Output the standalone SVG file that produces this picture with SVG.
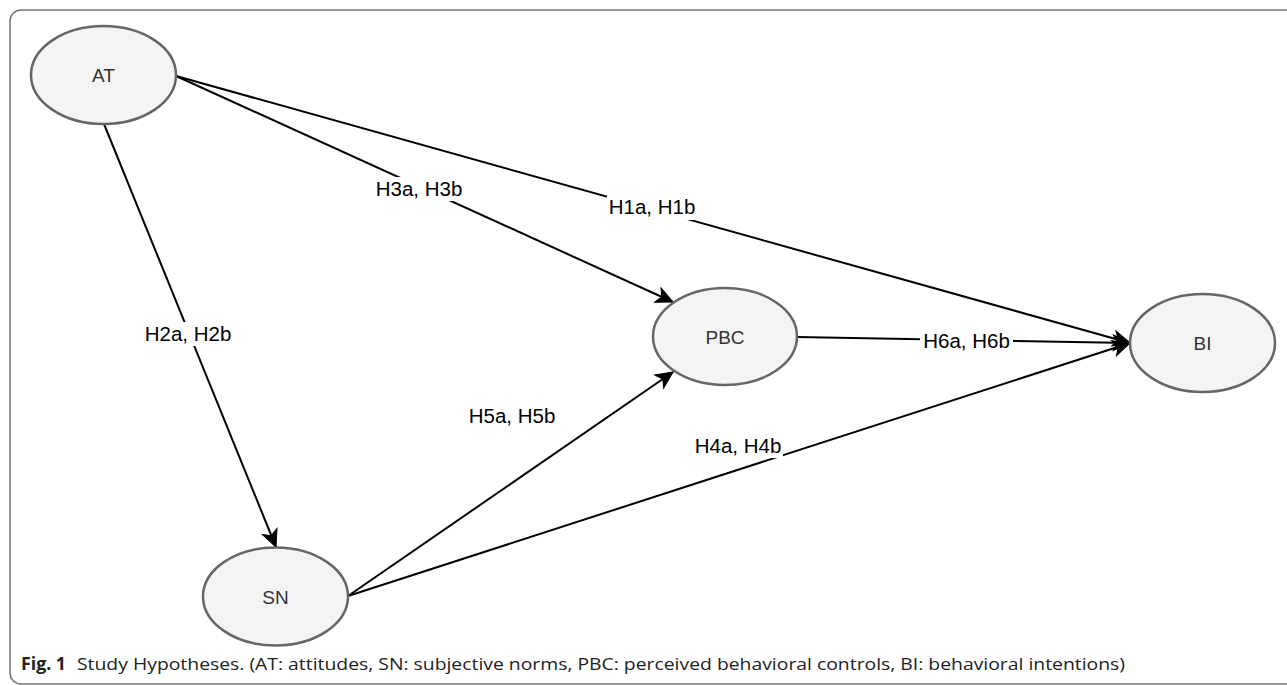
<svg xmlns="http://www.w3.org/2000/svg" width="1287" height="685" viewBox="0 0 1287 685">
<style>
.node{fill:#f4f4f4;stroke:#666;stroke-width:2.5}
.nt{font-family:"Liberation Sans",Arial,sans-serif;font-size:19px;fill:#333;text-anchor:middle}
.edge{stroke:#000;stroke-width:2;fill:none}
.lbl{font-family:"Liberation Sans",Arial,sans-serif;font-size:20.5px;fill:#000;text-anchor:middle}
.lbg{fill:#fff}
.cap{font-family:"Open Sans","Liberation Sans",sans-serif;font-size:16px;fill:#222}
</style>
<defs>
<marker id="arr" markerUnits="userSpaceOnUse" markerWidth="20" markerHeight="20" viewBox="-16 -8 18 16" refX="0" refY="0" orient="auto">
<path d="M0,0 L-15,-7 L-11,0 L-15,7 Z" fill="#000" stroke="#000" stroke-width="1"/>
</marker>
</defs>
<rect x="10" y="10" width="1300" height="674" rx="11" fill="#fff" stroke="#777" stroke-width="1.5"/>
<g id="connectors">
<line class="edge" x1="104" y1="124" x2="276" y2="547" marker-end="url(#arr)"/>
<line class="edge" x1="176" y1="76" x2="673" y2="302" marker-end="url(#arr)"/>
<line class="edge" x1="176" y1="76" x2="1130" y2="343" marker-end="url(#arr)"/>
<line class="edge" x1="797" y1="337" x2="1130" y2="343" marker-end="url(#arr)"/>
<line class="edge" x1="348" y1="596" x2="673" y2="372" marker-end="url(#arr)"/>
<line class="edge" x1="348" y1="596" x2="1130" y2="343" marker-end="url(#arr)"/>
<g id="labels">
<rect class="lbg" x="374" y="177" width="90" height="24"/>
<text class="lbl" x="419" y="196">H3a, H3b</text>
<rect class="lbg" x="607" y="196" width="90" height="24"/>
<text class="lbl" x="652" y="214">H1a, H1b</text>
<rect class="lbg" x="143" y="322" width="90" height="24"/>
<text class="lbl" x="188" y="341">H2a, H2b</text>
<rect class="lbg" x="920" y="330" width="93" height="24"/>
<text class="lbl" x="966.5" y="348">H6a, H6b</text>
<rect class="lbg" x="467" y="404" width="90" height="24"/>
<text class="lbl" x="512" y="423">H5a, H5b</text>
<rect class="lbg" x="693" y="434" width="90" height="24"/>
<text class="lbl" x="738" y="453">H4a, H4b</text>
</g>
</g>
<g id="AT"><ellipse class="node" cx="103.5" cy="75" rx="72.5" ry="49"/><text class="nt" x="103.5" y="82">AT</text></g>
<g id="PBC"><ellipse class="node" cx="725" cy="336.5" rx="72" ry="48.5"/><text class="nt" x="725" y="343.5">PBC</text></g>
<g id="BI"><ellipse class="node" cx="1202.5" cy="343" rx="72.5" ry="49"/><text class="nt" x="1202.5" y="350">BI</text></g>
<g id="SN"><ellipse class="node" cx="275.5" cy="596.5" rx="72.5" ry="49"/><text class="nt" x="275.5" y="603.5">SN</text></g>
<text class="cap" x="21" y="670"><tspan font-weight="bold" font-size="17" textLength="45" lengthAdjust="spacingAndGlyphs">Fig. 1</tspan></text>
<text class="cap" x="77" y="670" textLength="1048" lengthAdjust="spacingAndGlyphs">Study Hypotheses. (AT: attitudes, SN: subjective norms, PBC: perceived behavioral controls, BI: behavioral intentions)</text>
</svg>
